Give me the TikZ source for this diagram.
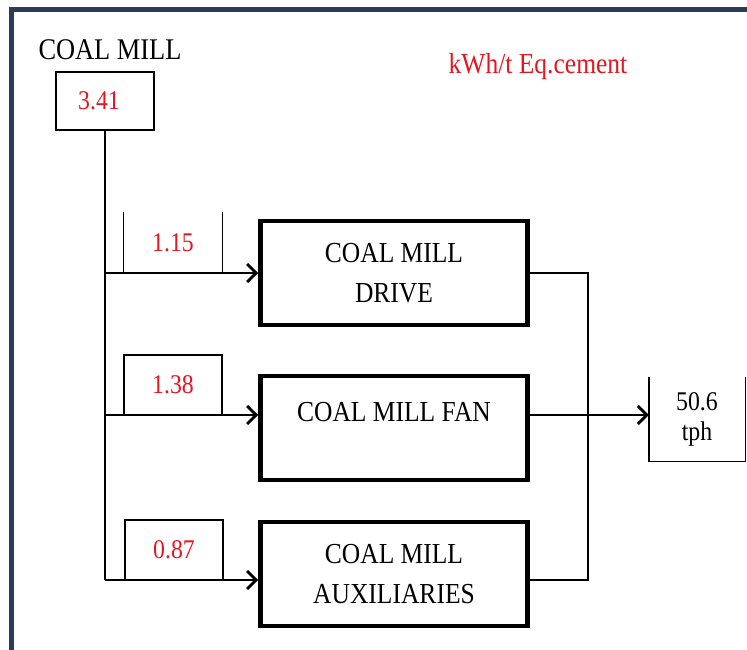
\documentclass[tikz,border=0pt]{standalone}
\usepackage{fontspec}
\setmainfont{Liberation Serif}[FakeStretch=0.88]
\usetikzlibrary{arrows.meta, positioning}
\definecolor{framenavy}{RGB}{42,60,88}
\definecolor{valred}{RGB}{228,22,34}
\tikzset{
    frame/.style={draw=framenavy, line width=5pt},
    block/.style={draw, line width=4.8pt, minimum width=267pt, minimum height=104pt, inner sep=0pt, align=center, font=\fontsize{29}{40}\selectfont},
    valbox/.style={draw, line width=1.3pt, minimum width=98pt, minimum height=60pt, inner sep=0pt, text=valred, font=\fontsize{27}{30}\selectfont},
    link/.style={line width=2.8pt},
    feed/.style={line width=2.8pt, -{Straight Barb[length=9pt, width=18pt]}},
    common settings/.style={x=1pt, y=-1pt}
}

\begin{document}
\begin{tikzpicture}[common settings]

    \useasboundingbox (0,0) rectangle (747,650);

    % Frame (top and left edge only)
    \draw[frame] (11.5,650) |- (747,9.5);

    % Header texts
    \node[font=\fontsize{30}{32}\selectfont] (title) at (110,50) {COAL MILL};
    \node[text=valred, font=\fontsize{29}{32}\selectfont] (unit) at (538,67) {kWh/t Eq.cement};

    % Total consumption
    \node[valbox, minimum height=58pt] (total) at (105,101) {\hspace*{-12pt}3.41};

    % Consumers
    \node[block] (drive) at (394,273) {COAL MILL\\DRIVE};
    \node[block, text height=19pt, text depth=32pt] (fan) at (394,428) {COAL MILL FAN};
    \node[block] (aux) at (394,574) {COAL MILL\\AUXILIARIES};

    % Branch points on the trunk
    \coordinate (b1) at (105,273);
    \coordinate (b2) at (105,415);
    \coordinate (b3) at (105,580);
    \coordinate (join) at (588,428);

    % Trunk and feeds
    \draw[link] (total.south) -- (b3);
    \draw[feed] (b1) -- (drive.west);
    \draw[feed] (b2) -- (b2 -| fan.west);
    \draw[feed] (b3) -- (b3 -| aux.west);

    % Share of each consumer
    \node[valbox, draw=none] (v1) at (173,243) {1.15};
    \draw[line width=1.3pt] (v1.north west) |- (v1.south east) -- (v1.north east); % open top
    \node[valbox] (v2) at (173,385) {1.38};
    \node[valbox] (v3) at (174,550) {0.87};

    % Output side
    \node[valbox, draw=none, text=black, align=center, minimum width=95pt, minimum height=83pt] (out) at (697,419) {50.6\\tph};
    \draw[line width=1.3pt] (out.north west) |- (out.south east) -- (out.north east); % open top
    \draw[link] (drive.east) -| (join) |- (aux.east |- b3);
    \draw[feed] (fan.east |- b2) -- (b2 -| out.west);

\end{tikzpicture}
\end{document}
